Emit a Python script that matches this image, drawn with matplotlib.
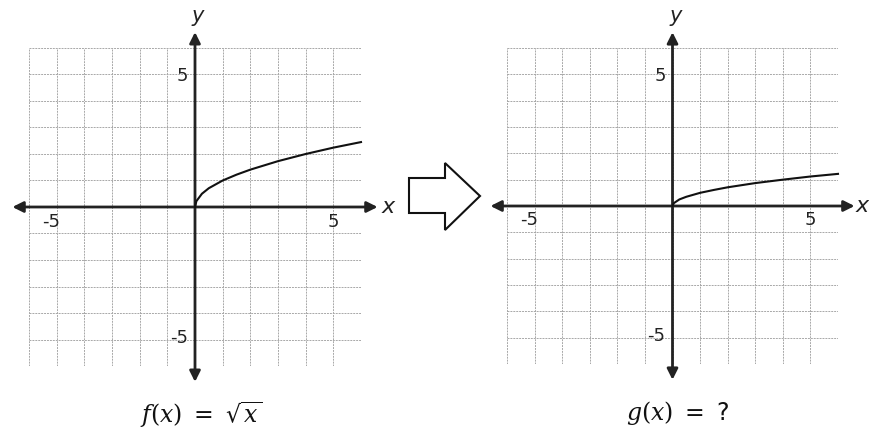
import matplotlib.pyplot as plt
from matplotlib.patches import Polygon

# points
x_pts = [0, 0.05, 0.25, 0.5, 1, 1.5, 2, 3, 4, 5, 6]
f_pts = [0, 0.22, 0.5, 0.71, 1.0, 1.22, 1.41, 1.73, 2.0, 2.24, 2.45]
g_pts = [0, 0.11, 0.25, 0.35, 0.5, 0.61, 0.71, 0.87, 1.0, 1.12, 1.22]
grid_ticks = list(range(-6, 7))
captions = [r'$f(x)$ $=$ $\sqrt{x}$', r'$g(x)$ $=$ ?']

W, H = 869, 436
fig = plt.figure(figsize=(W / 100, H / 100), dpi=100)
plt.rcParams['mathtext.fontset'] = 'dejavuserif'


def px_axes(x0, y0, x1, y1):
    return fig.add_axes([x0 / W, 1 - y1 / H, (x1 - x0) / W, (y1 - y0) / H])


def draw_panel(ax, y_vals, caption, xlab_pos):
    ax.set_xlim(-6, 6)
    ax.set_ylim(-6, 6)
    ax.axis('off')
    for t in grid_ticks:
        ax.plot([t, t], [-6, 6], color='#a8a8a8', lw=0.7, ls=(0, (2, 1)), zorder=1)
        ax.plot([-6, 6], [t, t], color='#a8a8a8', lw=0.7, ls=(0, (2, 1)), zorder=1)
    arrow = dict(arrowstyle='<|-|>', color='#222222', lw=2, mutation_scale=16,
                 shrinkA=0, shrinkB=0)
    ax.annotate('', xy=(6.6, 0), xytext=(-6.6, 0), arrowprops=arrow,
                annotation_clip=False, zorder=3)
    ax.annotate('', xy=(0, 6.6), xytext=(0, -6.6), arrowprops=arrow,
                annotation_clip=False, zorder=3)
    ax.plot(x_pts, y_vals, color='#111111', lw=1.5, zorder=4, clip_on=False)
    ax.text(0.1, 7.2, 'y', fontsize=15, style='italic', ha='center', va='center',
            color='#222222')
    ax.text(xlab_pos, 0, 'x', fontsize=16, style='italic', ha='left', va='center',
            color='#222222')
    tk = dict(fontsize=13, color='#222222', va='center')
    ax.text(-0.25, 4.95, '5', ha='right', **tk)
    ax.text(-0.25, -4.95, '-5', ha='right', **tk)
    ax.text(-5.2, -0.55, '-5', ha='center', **tk)
    ax.text(5.0, -0.55, '5', ha='center', **tk)
    ax.text(0.2, -7.85, caption, fontsize=17, ha='center', va='center',
            color='#111111')


ax1 = px_axes(29, 48, 361, 366)
ax2 = px_axes(507, 48, 838, 364)
draw_panel(ax1, f_pts, captions[0], 6.75)
draw_panel(ax2, g_pts, captions[1], 6.62)

# block arrow between the panels
pts = [(409, 178), (445, 178), (445, 163), (480, 196), (445, 230), (445, 213), (409, 213)]
fig.patches.append(Polygon([(x / W, 1 - y / H) for x, y in pts], closed=True,
                           transform=fig.transFigure, facecolor='white',
                           edgecolor='#111111', lw=1.5))

fig.savefig('out.png', dpi=100, facecolor='white')
